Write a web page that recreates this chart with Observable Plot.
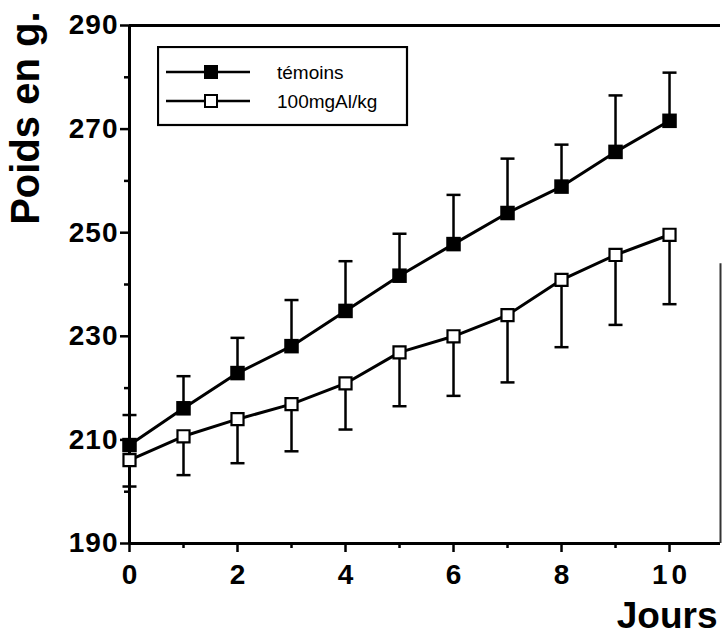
<!DOCTYPE html>
<html><head><meta charset="utf-8">
<script src="https://cdn.jsdelivr.net/npm/d3@7"></script>
<script src="https://cdn.jsdelivr.net/npm/@observablehq/plot@0.6"></script>
<style>
body{margin:0;background:#fff}
#chart{position:relative;width:723px;height:636px}
#legend{position:absolute;left:157px;top:46px}
</style></head><body><div id="chart"></div>
<script>
// ---- data ----
const days = [0, 1, 2, 3, 4, 5, 6, 7, 8, 9, 10];
const seriesNames = ["témoins", "100mgAl/kg"];
const temoinsMean = [209.0, 216.1, 222.9, 228.1, 234.9, 241.7, 247.8, 253.8, 258.9, 265.6, 271.6];
const temoinsErr  = [5.8, 6.2, 6.8, 8.9, 9.6, 8.1, 9.5, 10.5, 8.1, 10.9, 9.3];   // drawn upward
const alMean      = [206.1, 210.7, 214.0, 216.9, 220.9, 226.9, 230.0, 234.1, 240.9, 245.7, 249.6];
const alErr       = [5.1, 7.5, 8.5, 9.1, 8.9, 10.4, 11.5, 13.0, 13.0, 13.5, 13.4]; // drawn downward
const xMajorTicks = [0, 2, 4, 6, 8, 10];
const xMinorTicks = [1, 3, 5, 7, 9];
const yMajorTicks = [190, 210, 230, 250, 270, 290];
const yMinorTicks = [200, 220, 240, 260, 280];
const xDomain = [0, 10.944];
const yDomain = [190, 290];
const xTitle = "Jours";
const yTitle = "Poids en g.";
const rightEdgeTop = 244; // partial right frame line (top value)

// ---- table ----
const rowsT = days.map((d, i) => ({day: d, mean: temoinsMean[i], end: temoinsMean[i] + temoinsErr[i], series: seriesNames[0]}));
const rowsA = days.map((d, i) => ({day: d, mean: alMean[i], end: alMean[i] - alErr[i], series: seriesNames[1]}));
const rows = rowsT.concat(rowsA);

const capSymbol = {draw(ctx) { ctx.moveTo(-7, 0); ctx.lineTo(7, 0); }};
const font = "'Liberation Sans', Arial, sans-serif";

const chart = Plot.plot({
  width: 723, height: 636,
  marginLeft: 129, marginRight: 3, marginTop: 25, marginBottom: 93,
  x: {domain: xDomain},
  y: {domain: yDomain},
  style: {fontFamily: font, fontSize: "28px", fontWeight: "bold", color: "black", background: "white"},
  marks: [
    Plot.axisX({ticks: xMajorTicks, tickSize: 9, tickPadding: 12, strokeWidth: 2.5, label: null, fontSize: 28, fontWeight: "bold", tickFormat: d => String(d)}),
    Plot.axisX({ticks: xMinorTicks, tickSize: 5, strokeWidth: 2.5, label: null, tickFormat: () => ""}),
    Plot.axisY({ticks: yMajorTicks, tickSize: 9, tickPadding: 2, strokeWidth: 2.5, label: null, fontSize: 28, fontWeight: "bold", tickFormat: d => String(d)}),
    Plot.axisY({ticks: yMinorTicks, tickSize: 5, strokeWidth: 2.5, label: null, tickFormat: () => ""}),
    Plot.ruleY([yDomain[0]], {strokeWidth: 3}),
    Plot.ruleY([yDomain[1]], {strokeWidth: 3}),
    Plot.ruleX([xDomain[0]], {strokeWidth: 3}),
    Plot.ruleX([xDomain[1]], {y1: yDomain[0], y2: rightEdgeTop, strokeWidth: 2, stroke: "#333"}),
    Plot.ruleX(rows, {x: "day", y1: "mean", y2: "end", strokeWidth: 2.5, stroke: "black"}),
    Plot.dot(rows, {x: "day", y: "end", symbol: capSymbol, r: 4, stroke: "black", fill: "none", strokeWidth: 2.5}),
    Plot.line(rows, {x: "day", y: "mean", z: "series", stroke: "black", strokeWidth: 3}),
    Plot.dot(rowsT, {x: "day", y: "mean", symbol: "square", r: 8.2, fill: "black", stroke: "none"}),
    Plot.dot(rowsA, {x: "day", y: "mean", symbol: "square", r: 6.8, fill: "white", stroke: "black", strokeWidth: 2.2}),
    Plot.text([yTitle], {text: d => d, frameAnchor: "top-left", rotate: -90, textAnchor: "end", lineAnchor: "bottom", dx: -91, dy: -14, fontSize: 40, fontWeight: "bold"}),
    Plot.text([xTitle], {text: d => d, frameAnchor: "bottom-right", textAnchor: "end", lineAnchor: "bottom", dx: -3, dy: 84, fontSize: 37, fontWeight: "bold"})
  ]
});
// tick label font and wider digit spacing, as in the reference
d3.select(chart).selectAll("g[aria-label='y-axis tick label'] text")
  .style("font-size", "28px").style("font-weight", "bold").style("letter-spacing", "1px");
d3.select(chart).selectAll("g[aria-label='x-axis tick label'] text")
  .style("font-size", "28px").style("font-weight", "bold").style("letter-spacing", "4px").attr("dx", 2);
document.getElementById("chart").appendChild(chart);

// ---- legend (overlay box) ----
const leg = d3.create("svg").attr("id", "legend").attr("width", 252).attr("height", 81);
leg.append("rect").attr("x", 1).attr("y", 1).attr("width", 249).attr("height", 78)
  .attr("fill", "white").attr("stroke", "black").attr("stroke-width", 2.2);
seriesNames.forEach((name, i) => {
  const y = 26 + i * 29;
  leg.append("line").attr("x1", 9).attr("x2", 93).attr("y1", y).attr("y2", y).attr("stroke", "black").attr("stroke-width", 2.5);
  if (i === 0) leg.append("rect").attr("x", 47).attr("y", y - 7).attr("width", 14).attr("height", 14).attr("fill", "black");
  else leg.append("rect").attr("x", 48).attr("y", y - 6).attr("width", 12).attr("height", 12).attr("fill", "white").attr("stroke", "black").attr("stroke-width", 2);
  leg.append("text").attr("x", 120).attr("y", y).attr("dy", "0.35em")
    .attr("font-family", font).attr("font-size", 19).text(name);
});
document.getElementById("chart").appendChild(leg.node());
</script>
</body></html>
